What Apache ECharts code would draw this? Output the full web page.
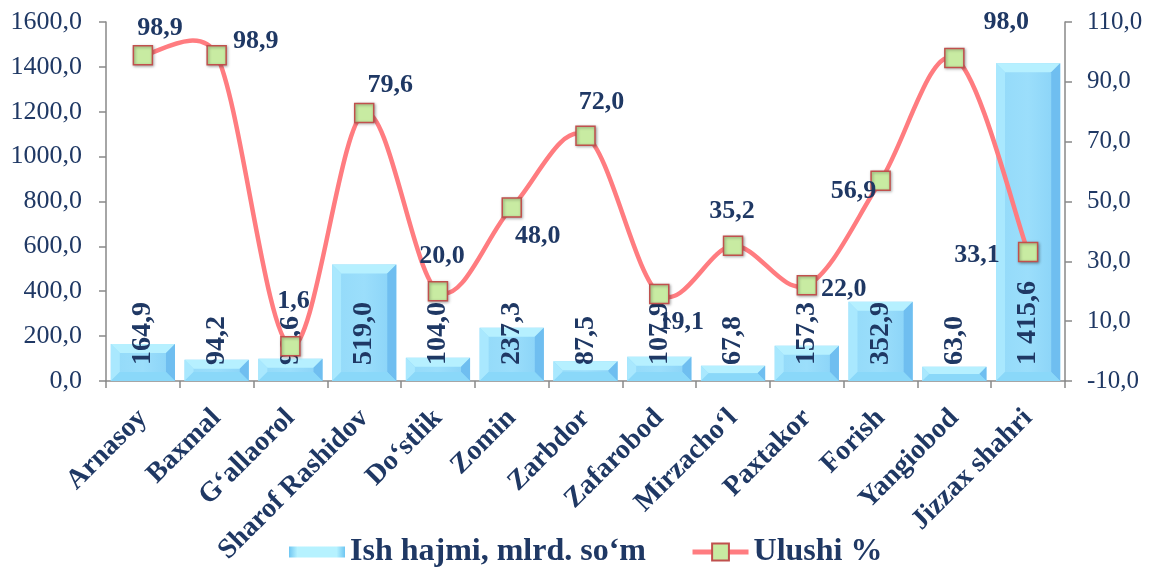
<!DOCTYPE html>
<html><head><meta charset="utf-8">
<script src="https://cdn.jsdelivr.net/npm/echarts@6/dist/echarts.min.js"></script>
<style>html,body{margin:0;padding:0;background:#fff}#c{width:1149px;height:567px}</style>
</head><body><div id="c"></div>
<script>
const categories = ["Arnasoy","Baxmal","G‘allaorol","Sharof Rashidov","Do‘stlik","Zomin","Zarbdor","Zafarobod","Mirzacho‘l","Paxtakor","Forish","Yangiobod","Jizzax shahri"];
const volumeValues = [164.9, 94.2, 98.6, 519.0, 104.0, 237.3, 87.5, 107.9, 67.8, 157.3, 352.9, 63.0, 1415.6];
const shareValues = [98.9, 98.9, 1.6, 79.6, 20.0, 48.0, 72.0, 19.1, 35.2, 22.0, 56.9, 98.0, 33.1];
const seriesNames = ["Ish hajmi, mlrd. so‘m", "Ulushi %"];
// label offsets (style only)
const shareLabelOffsets = [[17,-27],[39,-14],[3,-45],[26,-28],[4,-35],[26,29],[16,-33],[22,28],[-1,-34],[37,4],[-27,10],[52,-36],[-51,3]];

const navy = '#1F3864';
const lineColor = '#FF7C80';
const serif = '"Liberation Serif","Times New Roman",serif';
function fmtAxis(v){ return v.toFixed(1).replace('.', ','); }
function fmtBar(v){
  const s = v.toFixed(1).split('.');
  return s[0].replace(/\B(?=(\d{3})+(?!\d))/g,' ') + ',' + s[1];
}
const legendGrad = new echarts.graphic.LinearGradient(0,0,1,0,[
  {offset:0,color:'#6FC6F2'},{offset:0.15,color:'#B6F2FF'},{offset:0.85,color:'#B6F2FF'},{offset:1,color:'#6FC6F2'}]);

function renderBevel(params, api){
  const i = api.value(0), v = api.value(1);
  const top = api.coord([i, v]);
  const base = api.coord([i, 0]);
  const w = api.size([1, 0])[0] * 0.87;
  const x0 = top[0] - w/2, x1 = top[0] + w/2, y0 = top[1], y1 = base[1];
  const h = y1 - y0;
  const b = Math.max(1, Math.min(9, h/2, w/2));
  const faceGrad = new echarts.graphic.LinearGradient(0,0,1,0,[
    {offset:0,color:'#93DAF9'},{offset:0.5,color:'#9BDEFB'},{offset:1,color:'#88D2F7'}]);
  return {type:'group', children:[
    {type:'rect', shape:{x:x0,y:y0,width:w,height:h}, style:{fill:faceGrad}},
    {type:'polygon', shape:{points:[[x0,y0],[x1,y0],[x1-b,y0+b],[x0+b,y0+b]]}, style:{fill:'#B6F0FF'}},
    {type:'polygon', shape:{points:[[x0,y0],[x0+b,y0+b],[x0+b,y1-b],[x0,y1]]}, style:{fill:'#A9E8FE'}},
    {type:'polygon', shape:{points:[[x1,y0],[x1,y1],[x1-b,y1-b],[x1-b,y0+b]]}, style:{fill:'#6FBEF0'}},
    {type:'polygon', shape:{points:[[x0,y1],[x0+b,y1-b],[x1-b,y1-b],[x1,y1]]}, style:{fill:'#8AD8F9'}}
  ]};
}

// Excel-like cardinal smoothing, one bezier segment per point
function renderCurve(params, api){
  const i = params.dataIndex, n = shareValues.length;
  if (i >= n - 1) return null;
  const P = k => api.coord([k, shareValues[Math.max(0, Math.min(n-1, k))]]);
  const p1 = P(i), p2 = P(i+1);
  const p0 = i > 0 ? P(i-1) : p1;
  const p3 = i + 2 < n ? P(i+2) : p2;
  const t = 1/6;
  const seg = Math.hypot(p2[0]-p1[0], p2[1]-p1[1]);
  function clampVec(dx, dy){
    const L = Math.hypot(dx, dy), m = 0.5*seg;
    if (L > m && L > 0) { const s = m/L; return [dx*s, dy*s]; }
    return [dx, dy];
  }
  const c1 = clampVec((p2[0]-p0[0])*t, (p2[1]-p0[1])*t);
  const c2 = clampVec((p3[0]-p1[0])*t, (p3[1]-p1[1])*t);
  return {type:'bezierCurve', shape:{
      x1:p1[0], y1:p1[1], x2:p2[0], y2:p2[1],
      cpx1:p1[0] + c1[0], cpy1:p1[1] + c1[1],
      cpx2:p2[0] - c2[0], cpy2:p2[1] - c2[1]},
    style:{stroke:lineColor, lineWidth:4.5, fill:null, lineCap:'round'}};
}

const chart = echarts.init(document.getElementById('c'));
chart.setOption({
  animation:false,
  grid:{left:106,right:84,top:22,bottom:186},
  legend:{
    top:531, left:284, itemGap:44, itemWidth:56, itemHeight:21,
    textStyle:{fontFamily:serif,fontWeight:'bold',fontSize:32,color:navy},
    data:[{name:seriesNames[0],icon:'path://M0,0 L56,0 L56,11 L0,11 Z',itemStyle:{color:legendGrad}},
          {name:seriesNames[1],lineStyle:{color:lineColor,width:5,opacity:1}}]
  },
  xAxis:{
    type:'category', data:categories,
    axisLine:{lineStyle:{color:'#898989',width:1.5}},
    axisTick:{show:true,length:7,lineStyle:{color:'#898989',width:1.5}},
    axisLabel:{rotate:45,interval:0,fontFamily:serif,fontWeight:'bold',fontSize:28,color:navy,margin:33}
  },
  yAxis:[{
    type:'value',min:0,max:1600,interval:200,
    axisLine:{show:true,lineStyle:{color:'#898989',width:1.5}},
    axisTick:{show:true,length:7,lineStyle:{color:'#898989',width:1.5}},
    splitLine:{show:false},
    axisLabel:{formatter:v=>fmtAxis(v),fontFamily:serif,fontSize:26,color:navy,margin:24}
  },{
    type:'value',min:-10,max:110,interval:20,
    axisLine:{show:true,lineStyle:{color:'#898989',width:1.5}},
    axisTick:{show:true,length:7,lineStyle:{color:'#898989',width:1.5}},
    splitLine:{show:false},
    axisLabel:{formatter:v=>fmtAxis(v),fontFamily:serif,fontSize:25,color:navy,margin:22}
  }],
  series:[{
    type:'custom', name:'bevel', renderItem:renderBevel, silent:true, z:2,
    data:volumeValues.map((v,i)=>[i,v]), encode:{x:0,y:1}
  },{
    name:seriesNames[0], type:'bar', data:volumeValues, barCategoryGap:'13%', z:3,
    itemStyle:{color:'rgba(0,0,0,0)'},
    label:{show:true,position:'insideBottom',rotate:90,align:'left',verticalAlign:'middle',distance:16,
      formatter:p=>fmtBar(p.value),fontFamily:serif,fontWeight:'bold',fontSize:28,color:navy}
  },{
    type:'custom', name:'curve', renderItem:renderCurve, silent:true, z:4, yAxisIndex:1,
    data:shareValues.map((v,i)=>[i,v]), encode:{x:0,y:1}
  },{
    name:seriesNames[1], type:'line', yAxisIndex:1,
    data:shareValues.map((v,i)=>({value:v,label:{offset:shareLabelOffsets[i]}})),
    lineStyle:{color:lineColor,width:4.5,opacity:0},
    itemStyle:{color:'#C8EBA2',borderColor:'#C0504D',borderWidth:1.5,shadowColor:'rgba(0,0,0,0.35)',shadowBlur:3,shadowOffsetX:1,shadowOffsetY:1},
    symbol:'rect', symbolSize:19,
    label:{show:true,position:'inside',formatter:p=>fmtAxis(p.value),fontFamily:serif,fontWeight:'bold',fontSize:26,color:navy},
    z:5
  }]
});
</script></body></html>
